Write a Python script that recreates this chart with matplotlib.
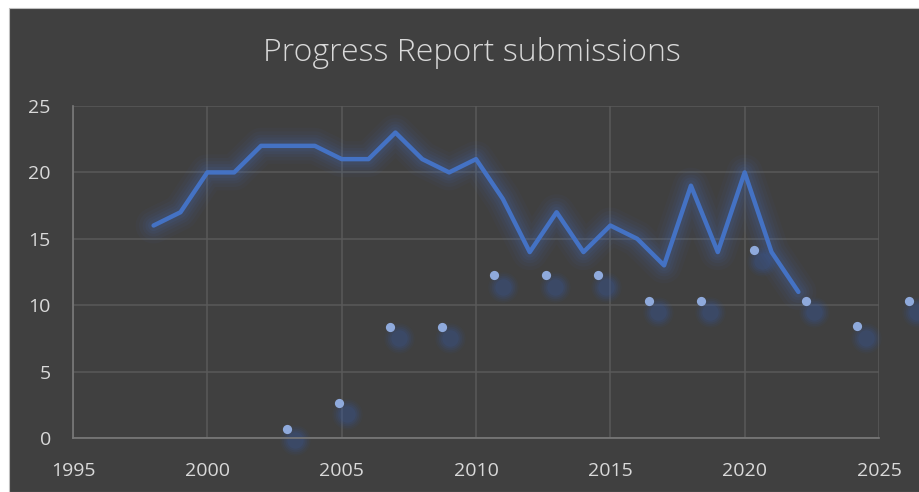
import numpy as np
import matplotlib.pyplot as plt
import matplotlib.transforms as mtransforms
from matplotlib.patches import Rectangle

# line series: submissions per year
years = [1998, 1999, 2000, 2001, 2002, 2003, 2004, 2005, 2006, 2007, 2008, 2009,
         2010, 2011, 2012, 2013, 2014, 2015, 2016, 2017, 2018, 2019, 2020, 2021, 2022]
submissions = [16, 17, 20, 20, 22, 22, 22, 21, 21, 23, 21, 20,
               21, 18, 14, 17, 14, 16, 15, 13, 19, 14, 20, 14, 11]

# scatter series
pt_x = [2002.96, 2004.89, 2006.81, 2008.73, 2010.68, 2012.61, 2014.54,
        2016.44, 2018.38, 2020.33, 2022.27, 2024.19, 2026.1]
pt_y = [0.68, 2.64, 8.36, 8.36, 12.25, 12.25, 12.25,
        10.32, 10.32, 14.16, 10.34, 8.43, 10.34]

x_ticks = [1995, 2000, 2005, 2010, 2015, 2020, 2025]
y_ticks = [0, 5, 10, 15, 20, 25]

bg = '#404040'
txt = '#D9D9D9'
blue = '#4472C4'

fig = plt.figure(figsize=(9.19, 4.92), dpi=100)
fig.patch.set_facecolor('white')
# dark chart area with thin border, leaving a white strip on the left and top
fig.patches.append(Rectangle((9 / 919, 0), 1, 1 - 8 / 492, transform=fig.transFigure,
                             facecolor=bg, edgecolor='#BFBFBF', linewidth=0.8, zorder=-1))

ax = fig.add_axes([73 / 919, 1 - 438 / 492, (879 - 73) / 919, (438 - 106) / 492])
ax.set_facecolor('none')

ax.set_xlim(1995, 2025)
ax.set_ylim(0, 25)
ax.set_xticks(x_ticks)
ax.set_yticks(y_ticks)
ax.grid(True, color='#5A5A5A', linewidth=1.1)
ax.set_axisbelow(True)
for s in ['top', 'right']:
    ax.spines[s].set_visible(False)
for s in ['left', 'bottom']:
    ax.spines[s].set_color('#7A7A7A')
    ax.spines[s].set_linewidth(1.2)
ax.tick_params(length=0, colors=txt, labelsize=14)
ax.tick_params(axis='x', pad=17)
ax.tick_params(axis='y', pad=16)
for lab in ax.get_xticklabels() + ax.get_yticklabels():
    lab.set_fontfamily('Open Sans')

# glow around the line
for w, a in [(26, 0.04), (21, 0.05), (16, 0.06), (12, 0.07), (8, 0.09)]:
    ax.plot(years, submissions, color=blue, linewidth=w, alpha=a,
            solid_capstyle='round', solid_joinstyle='round', zorder=2)
ax.plot(years, submissions, color=blue, linewidth=3.2,
        solid_capstyle='round', solid_joinstyle='round', zorder=3)

# blurred shadow dots, offset down-right
shadow_tr = mtransforms.offset_copy(ax.transData, fig=fig, x=8.5, y=-11.5, units='dots')
for s, a in [(480, 0.06), (380, 0.08), (290, 0.1), (210, 0.13), (140, 0.16)]:
    ax.scatter(pt_x, pt_y, s=s, color='#3A5A9C', alpha=a, linewidths=0,
               transform=shadow_tr, clip_on=False, zorder=2)
ax.scatter(pt_x, pt_y, s=44, color='#8FAADC', linewidths=0, clip_on=False, zorder=4)

fig.text(472 / 919, 1 - 53 / 492, 'Progress Report submissions', ha='center', va='center',
         color=txt, fontsize=23, fontfamily='Open Sans', fontweight='light')

fig.savefig('out.png', dpi=100, facecolor=fig.get_facecolor())
